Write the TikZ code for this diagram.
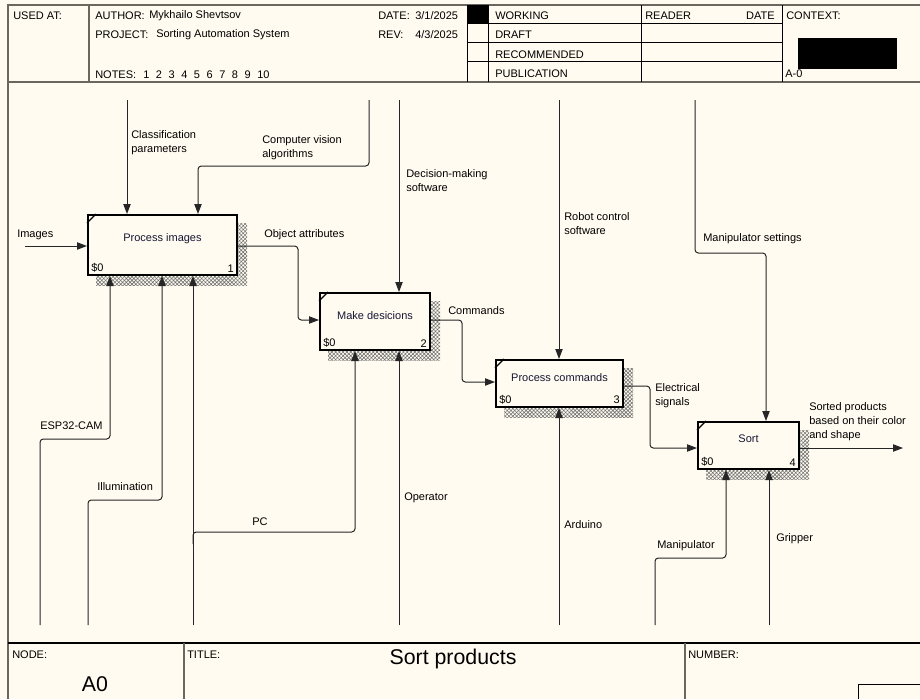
\documentclass[tikz,border=0pt]{standalone}
\usepackage{fontspec}
\setmainfont{Liberation Sans}
\usetikzlibrary{arrows.meta,patterns.meta,backgrounds,calc}
\definecolor{paper}{RGB}{255,251,240}
\definecolor{frame}{RGB}{105,103,95}
\definecolor{ink}{RGB}{22,22,52}

\begin{document}
\begin{tikzpicture}[x=0.75pt,y=-0.75pt,
  txt/.style={font=\fontsize{8.25pt}{10.5pt}\selectfont, inner sep=0pt, text=black, yshift=-1pt},
  lbl/.style={txt, anchor=west},
  mlbl/.style={txt, anchor=north west, align=left},
  big/.style={font=\fontsize{16pt}{18pt}\selectfont, inner sep=0pt},
  act/.style={draw=black, line width=1.5pt, fill=paper, inner sep=0pt},
  actname/.style={txt, text=ink},
  flow/.style={draw=black!85, line width=0.75pt, rounded corners=2.5pt},
  arr/.style={flow, -{Triangle[length=7.5pt,width=5.5pt]}},
  hdr/.style={draw=frame, line width=1.3pt},
  cell/.style={draw=black, line width=0.75pt},
  shade/.style={pattern={Hatch[angle=45,distance=2pt,line width=0.45pt]}, pattern color=black!55}
]
\useasboundingbox (0,0) rectangle (920,699);

% ---------- header frame ----------
\draw[hdr] (8,699) -- (8,5) -- (920,5);
\draw[hdr] (8,82) -- (920,82);
\draw[hdr] (89,5) -- (89,82);
\foreach \x in {467,488,641,782} \draw[cell] (\x,5) -- (\x,82);
\foreach \y in {24,43,62} \draw[cell] (467,\y) -- (782,\y);
\fill[black] (467,5) rectangle (488,24);
\fill[black] (798,38) rectangle (897,69);

\node[lbl] (usedat) at (13,14) {USED AT:};
\node[lbl] (author) at (95,14) {AUTHOR:};
\node[lbl] (authorv) at (149,14) {Mykhailo Shevtsov};
\node[lbl] (project) at (95,33) {PROJECT:};
\node[lbl] (projectv) at (156,33) {Sorting Automation System};
\node[lbl] (notes) at (95,73) {NOTES:};
\foreach \i [count=\k from 0] in {1,...,10}
  \node[lbl] (note\i) at ({143+12.67*\k},73) {\i};
\node[lbl] (date) at (378,14) {DATE:};
\node[lbl] (datev) at (415,14) {3/1/2025};
\node[lbl] (rev) at (378,33) {REV:};
\node[lbl] (revv) at (415,33) {4/3/2025};
\node[lbl] (working) at (495,14) {WORKING};
\node[lbl] (draft) at (495,33) {DRAFT};
\node[lbl] (recommended) at (495,53) {RECOMMENDED};
\node[lbl] (publication) at (495,72) {PUBLICATION};
\node[lbl] (reader) at (645,14) {READER};
\node[txt, anchor=east] (readerdate) at (775,14) {DATE};
\node[lbl] (context) at (786,14) {CONTEXT:};
\node[lbl] (ctxnode) at (785,72) {A-0};

% ---------- footer ----------
\draw[draw=black, line width=1.1pt] (8,643) -- (920,643);
\draw[hdr] (184,643) -- (184,699);
\draw[hdr] (685,643) -- (685,699);
\draw[cell] (858,699) -- (858,684) -- (920,684);
\node[lbl] (nodelbl) at (12,653) {NODE:};
\node[big] (nodev) at (95,684) {A0};
\node[lbl] (titlelbl) at (187,653) {TITLE:};
\node[big] (titlev) at (453,659) {Sort products};
\node[lbl] (numberlbl) at (688,653) {NUMBER:};

% ---------- activity boxes ----------
\node[act, minimum width=111.75pt, minimum height=45pt] (b1) at (162.5,245) {};
\node[act, minimum width=82.5pt, minimum height=42.75pt] (b2) at (375,321.5) {};
\node[act, minimum width=95.25pt, minimum height=35.25pt] (b3) at (559.5,383.5) {};
\node[act, minimum width=75.75pt, minimum height=35.25pt] (b4) at (748.5,445.5) {};

\node[actname] (b1n) at ($(b1.north)+(0,23)$) {Process images};
\node[actname] (b2n) at ($(b2.north)+(0,22)$) {Make desicions};
\node[actname] (b3n) at ($(b3.north)+(0,17)$) {Process commands};
\node[actname] (b4n) at ($(b4.north)+(0,16)$) {Sort};
\foreach \b/\n in {b1/1,b2/2,b3/3,b4/4}{
  \draw[line width=1pt] ($(\b.north west)+(0,9)$) -- ($(\b.north west)+(9,0)$);
  \node[txt, anchor=south west] (\b cost) at ($(\b.south west)+(4,-5)$) {\$0};
  \node[txt, anchor=south east] (\b num) at ($(\b.south east)+(-4,-5)$) {\n};
}

\begin{scope}[on background layer]
  \fill[paper] (0,0) rectangle (920,699);
  \foreach \b in {b1,b2,b3,b4}
    \fill[shade] ($(\b.north west)+(9,9)$) rectangle ($(\b.south east)+(9,9)$);
\end{scope}

% ---------- free ends and bends ----------
\coordinate (in1) at (25,246);
\coordinate (t1) at (127,100);
\coordinate (t2) at (369,100);
\coordinate (t3) at (399,100);
\coordinate (t4) at (559,100);
\coordinate (t5) at (695,100);
\coordinate (k2) at (198,166);
\coordinate (k5) at (766,253);
\coordinate (j1) at (298,246);
\coordinate (j1b) at (298,320);
\coordinate (j2) at (462,320);
\coordinate (j2b) at (462,382);
\coordinate (j3) at (650,386);
\coordinate (j3b) at (650,448);
\coordinate (out) at (903,448);
\coordinate (m1) at (40,625);
\coordinate (m2) at (88,625);
\coordinate (m3) at (193,625);
\coordinate (m4) at (399,625);
\coordinate (m5) at (559,625);
\coordinate (m6) at (655,625);
\coordinate (m7) at (769,625);
\coordinate (k6) at (110,439);
\coordinate (k7) at (162,500);
\coordinate (pcj) at (193,532);
\coordinate (k8) at (355,532);
\coordinate (k9) at (726,558);

% ---------- inputs, controls, outputs ----------
\draw[arr] (in1) -- (in1 -| b1.west);
\draw[arr] (t1) -- (t1 |- b1.north);
\draw[arr] (t2) |- (k2) -- (k2 |- b1.north);
\draw[arr] (j1 -| b1.east) -- (j1) -- (j1b) -- (j1b -| b2.west);
\draw[arr] (t3) -- (t3 |- b2.north);
\draw[arr] (j2 -| b2.east) -- (j2) -- (j2b) -- (j2b -| b3.west);
\draw[arr] (t4) -- (t4 |- b3.north);
\draw[arr] (j3 -| b3.east) -- (j3) -- (j3b) -- (j3b -| b4.west);
\draw[arr] (t5) |- (k5) -- (k5 |- b4.north);
\draw[arr] (out -| b4.east) -- (out);

% ---------- mechanisms ----------
\draw[arr] (m1) |- (k6) -- (k6 |- b1.south);
\draw[arr] (m2) |- (k7) -- (k7 |- b1.south);
\draw[arr] (m3) -- (m3 |- b1.south);
\draw[arr] ($(pcj)+(0,12)$) -- (pcj) -- (k8) -- (k8 |- b2.south);
\draw[arr] (m4) -- (m4 |- b2.south);
\draw[arr] (m5) -- (m5 |- b3.south);
\draw[arr] (m6) |- (k9) -- (k9 |- b4.south);
\draw[arr] (m7) -- (m7 |- b4.south);

% ---------- arrow labels ----------
\node[lbl] (limages) at (17,234) {Images};
\node[mlbl] (lclass) at (131,129) {Classification\\parameters};
\node[mlbl] (lcv) at (262,134) {Computer vision\\algorithms};
\node[lbl] (lattr) at (264,233) {Object attributes};
\node[mlbl] (ldec) at (406,168) {Decision-making\\software};
\node[lbl] (lcmd) at (448,309) {Commands};
\node[mlbl] (lrobot) at (564,211) {Robot control\\software};
\node[mlbl] (lelec) at (655,382) {Electrical\\signals};
\node[lbl] (lmset) at (703,237) {Manipulator settings};
\node[mlbl] (lsorted) at (809,401) {Sorted products\\based on their color\\and shape};
\node[lbl] (lesp) at (40,424) {ESP32-CAM};
\node[lbl] (lillum) at (97,485) {Illumination};
\node[lbl] (lpc) at (252,520) {PC};
\node[lbl] (loper) at (404,496) {Operator};
\node[lbl] (lard) at (564,523) {Arduino};
\node[lbl] (lmanip) at (657,544) {Manipulator};
\node[lbl] (lgrip) at (776,537) {Gripper};
\end{tikzpicture}
\end{document}
